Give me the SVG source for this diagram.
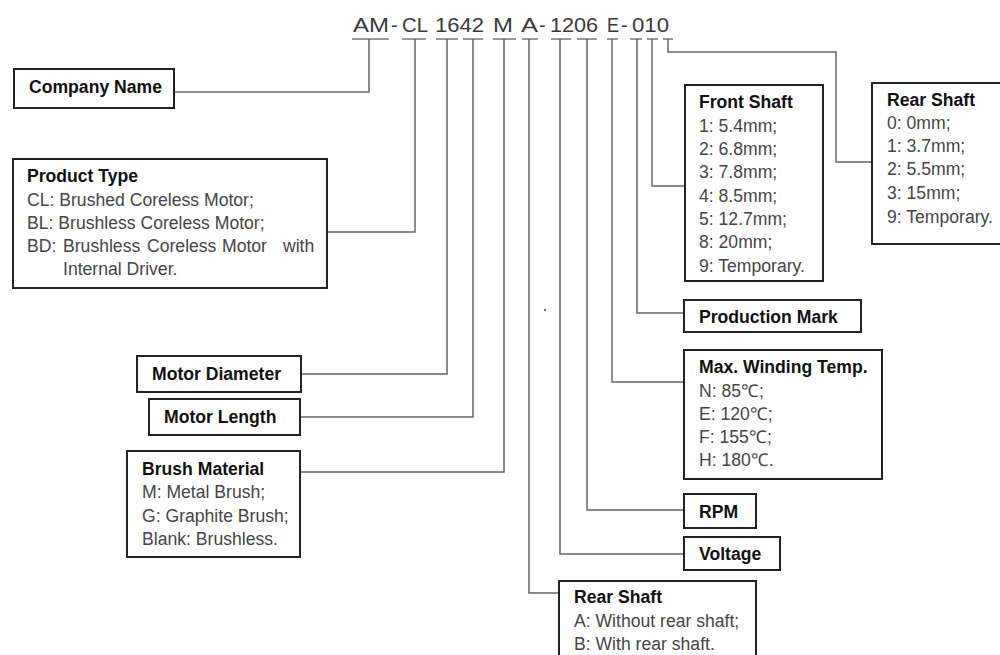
<svg xmlns="http://www.w3.org/2000/svg" width="1000" height="655" viewBox="0 0 1000 655">
<style>
.code{font-family:"Liberation Sans",Arial,sans-serif;font-size:20px;fill:#3a3a3a}
.box{fill:#fff;stroke:#222;stroke-width:2}
.h{font-family:"Liberation Sans",Arial,sans-serif;font-size:17.6px;font-weight:bold;fill:#111}
.t{font-family:"Liberation Sans",Arial,sans-serif;font-size:17.6px;fill:#454545}
.ul{stroke:#777;stroke-width:1.5}
.c{fill:none;stroke:#666;stroke-width:1.5}
</style>
<rect width="1000" height="655" fill="#fff"/>
<g id="code">
<text class="code" x="353" y="32" textLength="36" lengthAdjust="spacingAndGlyphs">AM</text>
<text class="code" x="391" y="32">-</text>
<text class="code" x="402" y="32" textLength="26" lengthAdjust="spacingAndGlyphs">CL</text>
<text class="code" x="435" y="32" textLength="49" lengthAdjust="spacingAndGlyphs">1642</text>
<text class="code" x="493" y="32" textLength="20" lengthAdjust="spacingAndGlyphs">M</text>
<text class="code" x="521" y="32" textLength="17" lengthAdjust="spacingAndGlyphs">A</text>
<text class="code" x="539" y="32">-</text>
<text class="code" x="550" y="32" textLength="48" lengthAdjust="spacingAndGlyphs">1206</text>
<text class="code" x="607" y="32" textLength="12" lengthAdjust="spacingAndGlyphs">E</text>
<text class="code" x="621" y="32">-</text>
<text class="code" x="632" y="32" textLength="37" lengthAdjust="spacingAndGlyphs">010</text>
<g class="ul">
<line x1="352" y1="39" x2="389" y2="39"/>
<line x1="402" y1="39" x2="426" y2="39"/>
<line x1="436" y1="39" x2="458" y2="39"/>
<line x1="463" y1="39" x2="483" y2="39"/>
<line x1="493" y1="39" x2="516" y2="39"/>
<line x1="522" y1="39" x2="538" y2="39"/>
<line x1="551" y1="39" x2="571" y2="39"/>
<line x1="577" y1="39" x2="597" y2="39"/>
<line x1="607" y1="39" x2="618" y2="39"/>
<line x1="630" y1="39" x2="642" y2="39"/>
<line x1="647" y1="39" x2="658" y2="39"/>
<line x1="663" y1="39" x2="673" y2="39"/>
</g>
</g>
<g id="connectors">
<polyline class="c" points="369,39 369,92 174,92"/>
<polyline class="c" points="415,39 415,232 327,232"/>
<polyline class="c" points="447,39 447,374 301,374"/>
<polyline class="c" points="473,39 473,417 300,417"/>
<polyline class="c" points="504,39 504,472 300,472"/>
<polyline class="c" points="529,39 529,593 559,593"/>
<polyline class="c" points="560,39 560,554 684,554"/>
<polyline class="c" points="587,39 587,510 684,510"/>
<polyline class="c" points="612,39 612,382 684,382"/>
<polyline class="c" points="637,39 637,313 684,313"/>
<polyline class="c" points="652,39 652,186 685,186"/>
<polyline class="c" points="668,39 668,52 836,52 836,162 872,162"/>
</g>
<rect x="544" y="309" width="2" height="2" fill="#666"/>
<g id="company-name">
<rect class="box" x="14" y="69" width="160" height="39"/>
<text class="h" x="29" y="93">Company Name</text>
</g>
<g id="product-type">
<rect class="box" x="13" y="159" width="314" height="129"/>
<text class="h" x="27" y="182">Product Type</text>
<text class="t" x="27" y="206">CL: Brushed Coreless Motor;</text>
<text class="t" x="27" y="229">BL: Brushless Coreless Motor;</text>
<text class="t" y="252"><tspan x="27">BD:</tspan><tspan x="63">Brushless</tspan><tspan x="147">Coreless</tspan><tspan x="222">Motor</tspan><tspan x="283">with</tspan></text>
<text class="t" x="63" y="275">Internal Driver.</text>
</g>
<g id="motor-diameter">
<rect class="box" x="137" y="356" width="164" height="36"/>
<text class="h" x="152" y="380">Motor Diameter</text>
</g>
<g id="motor-length">
<rect class="box" x="149" y="399" width="151" height="36"/>
<text class="h" x="164" y="423">Motor Length</text>
</g>
<g id="brush-material">
<rect class="box" x="127" y="451" width="173" height="106"/>
<text class="h" x="142" y="475">Brush Material</text>
<text class="t" x="142" y="498">M: Metal Brush;</text>
<text class="t" x="142" y="522">G: Graphite Brush;</text>
<text class="t" x="142" y="545">Blank: Brushless.</text>
</g>
<g id="front-shaft">
<rect class="box" x="685" y="85" width="138" height="196"/>
<text class="h" x="699" y="108">Front Shaft</text>
<text class="t" x="699" y="132">1: 5.4mm;</text>
<text class="t" x="699" y="155">2: 6.8mm;</text>
<text class="t" x="699" y="178">3: 7.8mm;</text>
<text class="t" x="699" y="202">4: 8.5mm;</text>
<text class="t" x="699" y="225">5: 12.7mm;</text>
<text class="t" x="699" y="248">8: 20mm;</text>
<text class="t" x="699" y="272">9: Temporary.</text>
</g>
<g id="rear-shaft-code">
<rect class="box" x="872" y="83" width="140" height="161"/>
<text class="h" x="887" y="106">Rear Shaft</text>
<text class="t" x="887" y="129">0: 0mm;</text>
<text class="t" x="887" y="152">1: 3.7mm;</text>
<text class="t" x="887" y="175">2: 5.5mm;</text>
<text class="t" x="887" y="199">3: 15mm;</text>
<text class="t" x="887" y="223">9: Temporary.</text>
</g>
<g id="production-mark">
<rect class="box" x="684" y="300" width="177" height="32"/>
<text class="h" x="699" y="323">Production Mark</text>
</g>
<g id="max-winding-temp">
<rect class="box" x="684" y="350" width="198" height="129"/>
<text class="h" x="699" y="373">Max. Winding Temp.</text>
<text class="t" x="699" y="397">N: 85℃;</text>
<text class="t" x="699" y="420">E: 120℃;</text>
<text class="t" x="699" y="443">F: 155℃;</text>
<text class="t" x="699" y="466">H: 180℃.</text>
</g>
<g id="rpm">
<rect class="box" x="684" y="494" width="72" height="34"/>
<text class="h" x="699" y="518">RPM</text>
</g>
<g id="voltage">
<rect class="box" x="684" y="537" width="96" height="33"/>
<text class="h" x="699" y="560">Voltage</text>
</g>
<g id="rear-shaft-option">
<rect class="box" x="559" y="581" width="197" height="90"/>
<text class="h" x="574" y="603">Rear Shaft</text>
<text class="t" x="574" y="627">A: Without rear shaft;</text>
<text class="t" x="574" y="650">B: With rear shaft.</text>
</g>
</svg>
